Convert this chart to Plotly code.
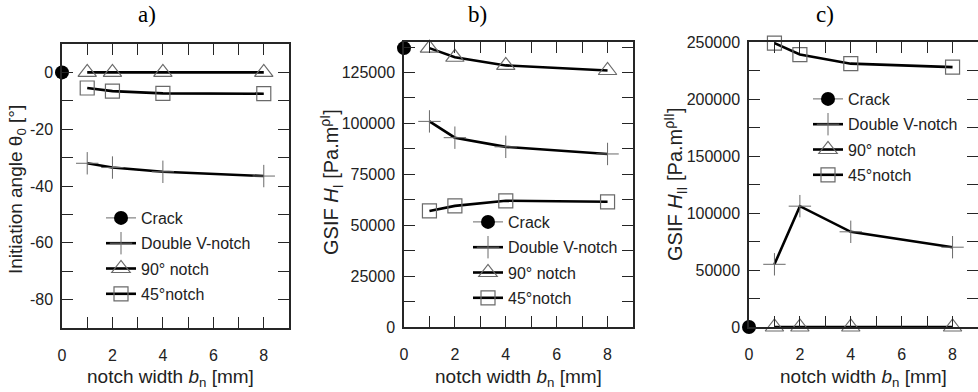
import plotly.graph_objects as go

# ---------------- data ----------------
notch_width = [1, 2, 4, 8]
crack_x = [0]

# panel a) initiation angle theta0 [deg]
a_crack = [0]
a_double_v = [-32, -33.5, -35, -36.5]
a_notch90 = [0, 0, 0, 0]
a_notch45 = [-5.5, -6.6, -7.4, -7.5]

# panel b) GSIF H_I
b_crack = [137000]
b_double_v = [101000, 93000, 88500, 85000]
b_notch90 = [137000, 132500, 128500, 126000]
b_notch45 = [57000, 59500, 62000, 61500]

# panel c) GSIF H_II
c_crack = [0]
c_double_v = [55000, 106000, 83500, 70000]
c_notch90 = [0, 0, 0, 0]
c_notch45 = [249000, 239000, 231000, 228000]

series_names = ["Crack", "Double V-notch", "90° notch", "45°notch"]
a_ytickvals = [-80, -60, -40, -20, 0]
a_yticktext = ["-80", "-60", "-40", "-20", "0"]
panel_titles = ["a)", "b)", "c)"]
y_titles = ["Initiation angle θ<sub>0</sub> [°]",
            "GSIF <i>H</i><sub>I</sub> [Pa.m<sup>ρI</sup>]",
            "GSIF <i>H</i><sub>II</sub> [Pa.m<sup>ρII</sup>]"]
x_title = "notch width <i>b</i><sub>n</sub> [mm]"

W, H = 978, 392
FONT = "Liberation Sans, Arial, sans-serif"
GREY = "#6a6a6a"
AX = "#262626"

fig = go.Figure()

panels = [
    (a_crack, a_double_v, a_notch90, a_notch45),
    (b_crack, b_double_v, b_notch90, b_notch45),
    (c_crack, c_double_v, c_notch90, c_notch45),
]

for i, (cr, dv, n90, n45) in enumerate(panels):
    xa = "x" if i == 0 else f"x{i+1}"
    ya = "y" if i == 0 else f"y{i+1}"
    lg = "legend" if i == 0 else f"legend{i+1}"
    common = dict(xaxis=xa, yaxis=ya, legend=lg, cliponaxis=False)
    fig.add_trace(go.Scatter(x=crack_x, y=cr, name=series_names[0], mode="lines+markers",
                             line=dict(color=GREY, width=1),
                             marker=dict(symbol="circle", size=14, color="black"),
                             legendgroup=f"{i}a", **common))
    fig.add_trace(go.Scatter(x=notch_width, y=dv, name=series_names[1], mode="lines+markers",
                             line=dict(color="black", width=2.6),
                             marker=dict(symbol="cross-thin", size=16, color=GREY,
                                         line=dict(color=GREY, width=1)),
                             legendgroup=f"{i}b", **common))
    fig.add_trace(go.Scatter(x=notch_width, y=n90, name=series_names[2], mode="lines+markers",
                             line=dict(color="black", width=2.6),
                             marker=dict(symbol="triangle-up-open", size=16, color=GREY,
                                         line=dict(color=GREY, width=1.2)),
                             legendgroup=f"{i}c", **common))
    fig.add_trace(go.Scatter(x=notch_width, y=n45, name=series_names[3], mode="lines+markers",
                             line=dict(color="black", width=2.6),
                             marker=dict(symbol="square-open", size=14, color=GREY,
                                         line=dict(color=GREY, width=1.2)),
                             legendgroup=f"{i}d", **common))

# panel pixel boxes: (left, right, top, bottom)
boxes = [(62, 289, 44, 328), (404, 633, 42, 327), (749, 978, 42, 327)]

def xdom(l, r):
    return [l / W, min(r / W, 1.0)]

def ydom(t, b):
    return [(H - b) / H, (H - t) / H]

tick_common = dict(ticks="inside", ticklen=11, tickwidth=1, tickcolor=AX,
                   showline=True, linecolor=AX, linewidth=1.5, mirror="allticks",
                   showgrid=False, zeroline=False, automargin=False,
                   tickfont=dict(family=FONT, size=16, color="#222"))

yranges = [[-90, 10], [0, 140000], [0, 250000]]
ydticks = [20, 25000, 50000]
yminor = [10, 12500, 25000]

layout = dict(width=W, height=H, margin=dict(l=0, r=0, t=0, b=0, autoexpand=False),
              paper_bgcolor="white", plot_bgcolor="white", showlegend=True)

for i, (l, r, t, b) in enumerate(boxes):
    xk = "xaxis" if i == 0 else f"xaxis{i+1}"
    yk = "yaxis" if i == 0 else f"yaxis{i+1}"
    layout[xk] = dict(domain=xdom(l, r), range=[0, 9], tick0=0, dtick=2,
                      anchor="y" if i == 0 else f"y{i+1}",
                      minor=dict(dtick=1, tick0=0, ticks="inside", ticklen=11, tickwidth=1, tickcolor=AX),
                      ticklabelstandoff=12, **tick_common)
    yd = dict(domain=ydom(t, b), range=yranges[i],
              anchor="x" if i == 0 else f"x{i+1}",
              minor=dict(dtick=yminor[i], tick0=0, ticks="inside", ticklen=11, tickwidth=1, tickcolor=AX),
              ticklabelstandoff=4, **tick_common)
    if i == 0:
        yd.update(tickmode="array", tickvals=a_ytickvals, ticktext=a_yticktext)
    else:
        yd.update(tick0=0, dtick=ydticks[i], tickformat="d")
    layout[yk] = yd

# legends
leg_pos = [(101, 201), (468, 205), (808, 82)]
for i, (lx, ly) in enumerate(leg_pos):
    lk = "legend" if i == 0 else f"legend{i+1}"
    layout[lk] = dict(x=lx / W, y=(H - ly) / H, xanchor="left", yanchor="top",
                      xref="paper", yref="paper", bgcolor="rgba(0,0,0,0)",
                      font=dict(family=FONT, size=16, color="#222"),
                      traceorder="grouped", tracegroupgap=1.5, itemwidth=30)

fig.update_layout(**layout)

annots = []
title_x = [147, 477, 825]
for i, tx in enumerate(title_x):
    annots.append(dict(text=panel_titles[i], x=tx / W, y=(H - 15) / H, xref="paper", yref="paper",
                       showarrow=False, xanchor="center", yanchor="middle",
                       font=dict(family="Liberation Serif, Times New Roman, serif", size=23, color="black")))
ytitle_pos = [(17, 190), (331, 182), (675, 184)]
ytitle_size = [19, 20, 20]
for i, (px, py) in enumerate(ytitle_pos):
    annots.append(dict(text=y_titles[i], x=px / W, y=(H - py) / H, xref="paper", yref="paper",
                       showarrow=False, xanchor="center", yanchor="middle", textangle=-90,
                       font=dict(family=FONT, size=ytitle_size[i], color="#222")))
for i, (l, r, t, b) in enumerate(boxes):
    cx = [170, 518, 863][i]
    annots.append(dict(text=x_title, x=cx / W, y=(H - 378) / H, xref="paper", yref="paper",
                       showarrow=False, xanchor="center", yanchor="middle",
                       font=dict(family=FONT, size=19, color="#222")))
fig.update_layout(annotations=annots)

fig.write_html("out.html", config={"displayModeBar": False},
               post_script="document.body.style.margin='0';")
